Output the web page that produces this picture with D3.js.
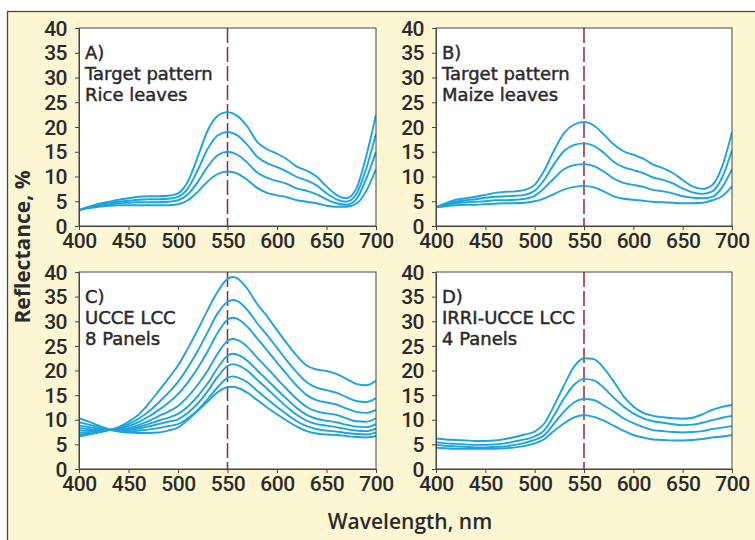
<!DOCTYPE html>
<html>
<head>
<meta charset="utf-8">
<script src="https://cdn.jsdelivr.net/npm/d3@7"></script>
<style>
  html, body { margin: 0; padding: 0; background: #ffffff; }
  svg { display: block; }
</style>
</head>
<body>
<svg id="chart" width="755" height="540"></svg>
<script>
// ---------------- DATA ----------------
const wavelengths = [400,410,420,430,440,450,460,470,480,490,500,510,520,530,540,550,560,570,580,590,600,610,620,630,640,650,660,670,680,690,700];
const wavelengthsC = [400,410,420,430,440,450,460,470,480,490,500,510,520,530,540,550,555,560,570,580,590,600,610,620,630,640,650,660,670,680,690,700];

const xTicks = [400,450,500,550,600,650,700];
const yTicks = [0,5,10,15,20,25,30,35,40];
const referenceWavelength = 550;

// A) Target pattern - Rice leaves
const riceSeries = [
  [3.2,3.9,4.5,4.9,5.3,5.6,5.9,6.0,6.0,6.1,6.6,9.0,14.0,19.3,22.2,23.0,22.2,20.1,17.0,15.5,14.6,13.5,12.0,11.2,10.0,8.0,6.3,5.6,7.5,14.0,22.5],
  [3.2,3.8,4.3,4.7,4.9,5.1,5.3,5.4,5.4,5.5,5.9,7.6,11.3,15.6,18.3,19.0,18.3,16.4,14.0,12.7,11.9,11.0,9.9,9.2,8.2,6.6,5.4,4.9,6.4,11.5,18.7],
  [3.2,3.7,4.1,4.4,4.6,4.7,4.8,4.8,4.8,4.9,5.2,6.4,8.9,12.0,14.3,15.0,14.4,12.8,10.8,9.7,9.1,8.5,7.6,7.1,6.4,5.4,4.6,4.3,5.4,9.5,15.0],
  [3.2,3.6,3.9,4.1,4.2,4.2,4.2,4.2,4.2,4.2,4.4,5.2,6.9,9.0,10.5,11.0,10.6,9.3,7.7,6.7,6.2,5.8,5.2,4.9,4.6,4.1,3.9,3.9,4.5,7.0,11.5]
];

// B) Target pattern - Maize leaves
const maizeSeries = [
  [3.8,4.6,5.3,5.6,5.9,6.3,6.7,6.9,7.0,7.3,8.3,11.3,15.4,18.8,20.5,21.0,20.3,18.5,16.5,15.1,14.4,13.6,12.4,11.7,10.7,9.3,8.0,7.5,8.3,12.0,19.0],
  [3.8,4.4,4.9,5.2,5.4,5.7,5.9,6.0,6.1,6.3,7.1,9.4,12.6,15.2,16.4,16.7,16.2,14.8,13.0,11.9,11.3,10.7,9.8,9.3,8.6,7.6,6.8,6.5,7.0,9.8,15.3],
  [3.8,4.2,4.6,4.8,4.9,5.0,5.2,5.2,5.3,5.5,6.1,7.7,9.7,11.5,12.3,12.5,12.1,11.0,9.6,8.7,8.3,7.9,7.3,7.0,6.6,6.0,5.7,5.6,5.9,7.8,11.5],
  [3.8,4.0,4.2,4.3,4.3,4.4,4.5,4.6,4.6,4.7,5.0,5.6,6.5,7.4,7.9,8.1,7.8,7.0,6.0,5.5,5.3,5.1,4.9,4.8,4.7,4.6,4.6,4.7,5.2,6.0,8.0]
];

// C) UCCE LCC - 8 panels
const ucceSeries = [
  [6.6,7.0,7.4,7.9,8.5,9.6,11.0,13.2,15.7,18.3,21.0,24.5,28.3,32.3,36.0,38.6,39.0,38.7,36.6,33.5,31.0,28.2,25.5,23.0,21.0,20.2,19.9,19.3,18.3,17.3,17.0,17.9],
  [6.9,7.2,7.5,7.9,8.3,9.1,10.2,11.6,13.4,15.4,17.7,20.6,24.0,27.8,31.6,33.9,34.3,34.1,32.3,29.6,27.2,24.6,22.0,19.6,17.6,16.5,16.0,15.5,14.6,13.8,13.6,14.4],
  [7.3,7.5,7.7,7.9,8.2,8.7,9.5,10.6,11.9,13.4,15.2,17.6,20.5,23.9,27.6,30.3,30.7,30.5,28.9,26.5,24.1,21.6,19.2,16.9,15.0,14.0,13.5,13.1,12.3,11.6,11.4,12.0],
  [7.8,7.8,7.9,7.9,8.0,8.3,8.9,9.7,10.7,11.6,12.8,14.7,17.1,20.0,23.4,26.0,26.4,26.2,24.8,22.6,20.5,18.3,16.2,14.2,12.6,11.7,11.3,11.0,10.3,9.7,9.6,10.3],
  [8.3,8.1,8.0,7.9,7.9,8.1,8.5,9.1,9.8,10.4,11.2,12.7,14.8,17.4,20.5,23.0,23.4,23.2,22.0,20.0,18.1,16.1,14.2,12.4,11.0,10.2,9.8,9.5,9.0,8.6,8.5,9.1],
  [8.8,8.5,8.2,7.9,7.8,7.9,8.2,8.6,9.1,9.6,10.1,11.4,13.3,15.8,18.7,20.9,21.3,21.1,20.0,18.1,16.3,14.4,12.6,11.0,9.8,9.1,8.8,8.5,8.1,7.8,7.7,8.2],
  [9.5,9.0,8.5,8.0,7.7,7.6,7.8,8.0,8.3,8.7,9.1,10.3,12.0,14.2,16.6,18.5,18.8,18.6,17.6,15.9,14.2,12.6,11.1,9.7,8.7,8.1,7.8,7.6,7.3,7.1,7.0,7.4],
  [10.3,9.6,8.8,8.1,7.6,7.4,7.3,7.3,7.4,7.8,8.4,10.0,11.8,13.7,15.6,16.6,16.7,16.5,15.5,14.0,12.5,11.1,9.8,8.6,7.7,7.2,7.0,6.9,6.7,6.5,6.4,6.7]
];

// D) IRRI-UCCE LCC - 4 panels
const irriSeries = [
  [6.2,6.0,5.9,5.8,5.7,5.7,5.8,6.1,6.5,7.0,7.6,9.3,13.0,17.1,20.8,22.5,22.3,20.5,17.8,14.8,12.7,11.4,10.8,10.5,10.3,10.2,10.4,11.1,12.0,12.6,13.0],
  [5.4,5.2,5.1,5.0,4.9,4.9,5.0,5.2,5.6,6.0,6.6,7.9,11.0,14.4,17.1,18.3,18.0,16.5,14.5,12.7,11.3,10.3,9.7,9.4,9.1,8.9,9.0,9.4,9.9,10.4,10.8],
  [4.9,4.7,4.6,4.5,4.4,4.4,4.5,4.6,4.9,5.3,5.9,6.9,9.3,11.7,13.5,14.2,14.0,12.9,11.7,10.3,9.3,8.5,7.9,7.7,7.5,7.4,7.5,7.7,8.1,8.4,8.7],
  [4.3,4.2,4.1,4.1,4.1,4.1,4.1,4.2,4.4,4.7,5.2,6.1,7.8,9.3,10.5,10.9,10.6,9.8,8.8,7.8,6.9,6.4,6.0,5.9,5.8,5.8,5.9,6.1,6.4,6.6,6.9]
];

const panelLabelsA = ["A)", "Target pattern", "Rice leaves"];
const panelLabelsB = ["B)", "Target pattern", "Maize leaves"];
const panelLabelsC = ["C)", "UCCE LCC", "8 Panels"];
const panelLabelsD = ["D)", "IRRI-UCCE LCC", "4 Panels"];

const yTitle = "Reflectance, %";
const xTitle = "Wavelength, nm";

// ---------------- LAYOUT ----------------
const svg = d3.select("#chart");
const TICKFONT = "Roboto, 'Open Sans', sans-serif";
const LABELFONT = "'Open Sans', Roboto, sans-serif";
const PANELFONT = "'DejaVu Sans', 'Open Sans', sans-serif";
const TEXT = "#2a2a2a";
const LINE = "#1ba4dd";
const DASH = "#8c2a3c";

svg.append("rect").attr("x", 0).attr("y", 0).attr("width", 755).attr("height", 540).attr("fill", "#ffffff");
svg.append("rect").attr("x", 7.5).attr("y", 11.5).attr("width", 760).attr("height", 540)
  .attr("fill", "#fdf6d3").attr("stroke", "#4a4a4a").attr("stroke-width", 1.3);

const panels = [
  {x0: 79, x1: 376, y0: 28, y1: 226, wl: wavelengths, series: riceSeries, labels: panelLabelsA},
  {x0: 436, x1: 732, y0: 28, y1: 226, wl: wavelengths, series: maizeSeries, labels: panelLabelsB},
  {x0: 79, x1: 376, y0: 272, y1: 469, wl: wavelengthsC, series: ucceSeries, labels: panelLabelsC},
  {x0: 436, x1: 732, y0: 272, y1: 469, wl: wavelengths, series: irriSeries, labels: panelLabelsD}
];

panels.forEach((p, i) => {
  const x = d3.scaleLinear().domain([400, 700]).range([p.x0, p.x1]);
  const y = d3.scaleLinear().domain([0, 40]).range([p.y1, p.y0]);
  const g = svg.append("g");

  g.append("rect").attr("x", p.x0).attr("y", p.y0)
    .attr("width", p.x1 - p.x0).attr("height", p.y1 - p.y0)
    .attr("fill", "#ffffff");

  const clipId = "clip" + i;
  svg.append("clipPath").attr("id", clipId).append("rect")
    .attr("x", p.x0).attr("y", p.y0 - 2).attr("width", p.x1 - p.x0).attr("height", p.y1 - p.y0 + 2);

  g.append("line")
    .attr("x1", x(referenceWavelength)).attr("x2", x(referenceWavelength))
    .attr("y1", y(40)).attr("y2", y(0))
    .attr("stroke", DASH).attr("stroke-width", 1.5)
    .attr("stroke-dasharray", "15,4");

  const line = d3.line()
    .x((d, j) => x(p.wl[j]))
    .y(d => y(d))
    .curve(d3.curveMonotoneX);
  g.append("g").attr("clip-path", `url(#${clipId})`)
    .selectAll("path").data(p.series).join("path")
    .attr("d", line)
    .attr("fill", "none")
    .attr("stroke", LINE)
    .attr("stroke-width", 1.9);

  g.append("rect").attr("x", p.x0).attr("y", p.y0)
    .attr("width", p.x1 - p.x0).attr("height", p.y1 - p.y0)
    .attr("fill", "none").attr("stroke", "#444").attr("stroke-width", 1);

  const xAxis = d3.axisBottom(x).tickValues(xTicks).tickSize(4).tickPadding(3).tickSizeOuter(0);
  const yAxis = d3.axisLeft(y).tickValues(yTicks).tickSize(4).tickPadding(8).tickSizeOuter(0);

  const gx = g.append("g").attr("transform", `translate(0,${p.y1})`).call(xAxis);
  const gy = g.append("g").attr("transform", `translate(${p.x0},0)`).call(yAxis);
  [gx, gy].forEach(ax => {
    ax.select(".domain").attr("stroke", "#444");
    ax.selectAll(".tick line").attr("stroke", "#444");
    ax.selectAll(".tick text")
      .attr("fill", TEXT)
      .style("font-family", TICKFONT)
      .style("font-size", "21px")
      .style("letter-spacing", "-0.5px")
      .style("font-weight", 500);
  });
  gy.selectAll(".tick text").attr("dy", "0.34em");

  const offsets = [31, 52, 73];
  g.selectAll("text.plabel").data(p.labels).join("text")
    .attr("class", "plabel")
    .attr("x", p.x0 + 6)
    .attr("y", (d, j) => p.y0 + offsets[j])
    .attr("fill", TEXT)
    .attr("stroke", TEXT)
    .attr("stroke-width", 0.45)
    .style("font-family", PANELFONT)
    .style("font-size", "18px")
    .text(d => d);
});

svg.append("text")
  .attr("transform", "translate(30,247) rotate(-90)")
  .attr("text-anchor", "middle")
  .attr("fill", TEXT)
  .style("font-family", LABELFONT)
  .style("font-size", "21px")
  .style("font-weight", 700)
  .text(yTitle);

svg.append("text")
  .attr("x", 410).attr("y", 529)
  .attr("text-anchor", "middle")
  .attr("fill", TEXT)
  .style("font-family", LABELFONT)
  .style("font-size", "21px")
  .style("font-weight", 600)
  .text(xTitle);
</script>
</body>
</html>
